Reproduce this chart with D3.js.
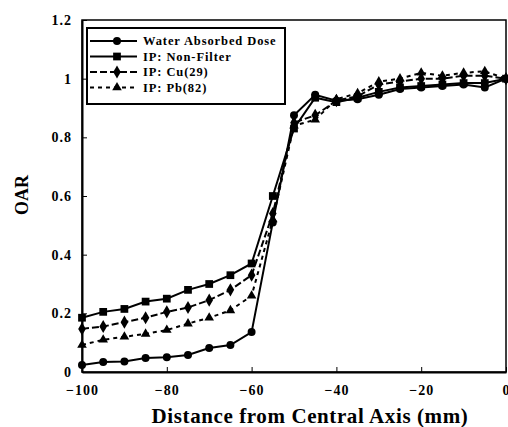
<!DOCTYPE html>
<meta charset="UTF-8">
<style>
    body { margin: 0; background: #fff; }
    text { font-family: "Liberation Serif", "Times New Roman", serif; font-weight: bold; fill: #000; }
    .line { fill: none; stroke: #000; stroke-width: 2px; }
</style>
<body>
<div id="chart"></div>
<script src="https://d3js.org/d3.v7.min.js"></script>
<script>

// data (x every 5 mm from -100 to 0)
var xs = [-100, -95, -90, -85, -80, -75, -70, -65, -60, -55, -50, -45, -40, -35, -30, -25, -20, -15, -10, -5, 0];
var water = [0.024, 0.034, 0.036, 0.048, 0.05, 0.058, 0.082, 0.092, 0.136, 0.51, 0.875, 0.945, 0.925, 0.93, 0.945, 0.965, 0.97, 0.975, 0.98, 0.97, 1.0];
var nonFilter = [0.185, 0.205, 0.215, 0.24, 0.25, 0.28, 0.30, 0.33, 0.37, 0.6, 0.83, 0.935, 0.92, 0.935, 0.955, 0.97, 0.975, 0.98, 0.985, 0.985, 1.0];
var cu = [0.147, 0.155, 0.17, 0.185, 0.205, 0.22, 0.245, 0.28, 0.33, 0.54, 0.85, 0.875, 0.925, 0.94, 0.98, 0.99, 1.0, 1.0, 1.01, 1.01, 1.0];
var pb = [0.092, 0.11, 0.12, 0.13, 0.143, 0.165, 0.185, 0.21, 0.26, 0.52, 0.84, 0.86, 0.93, 0.95, 0.99, 1.0, 1.02, 1.01, 1.02, 1.025, 1.0];
var xTicks = [-100, -80, -60, -40, -20, 0];
var yTicks = [0, 0.2, 0.4, 0.6, 0.8, 1, 1.2];

var series = [
    {name: "Water Absorbed Dose", values: water, symbol: d3.symbolCircle, size: 50, dash: null},
    {name: "IP: Non-Filter", values: nonFilter, symbol: d3.symbolSquare, size: 60, dash: null},
    {name: "IP: Cu(29)", values: cu, symbol: d3.symbolDiamond, size: 50, dash: "7,3"},
    {name: "IP: Pb(82)", values: pb, symbol: d3.symbolTriangle, size: 40, dash: "4,4"}
];

var margin = {top: 20, right: 2, bottom: 55, left: 82},
    width = 508 - margin.left - margin.right,
    height = 427 - margin.top - margin.bottom;

var x = d3.scaleLinear().domain([-100, 0]).range([0, width]);
var y = d3.scaleLinear().domain([0, 1.2]).range([height, 0]);

var svg = d3.select("#chart").append("svg")
    .attr("width", 508)
    .attr("height", 427)
    .append("g")
    .attr("transform", "translate(" + margin.left + "," + margin.top + ")");

// frame
svg.append("rect")
    .attr("x", 0).attr("y", 0)
    .attr("width", width).attr("height", height)
    .attr("fill", "none").attr("stroke", "#000").attr("stroke-width", 1.5);

// x axis, ticks pointing inward
var xAxis = svg.append("g")
    .attr("transform", "translate(0," + height + ")")
    .call(d3.axisBottom(x).tickValues(xTicks).tickSizeInner(-5).tickSizeOuter(0).tickPadding(13).tickFormat(d3.format("d")));
xAxis.select(".domain").attr("stroke-width", 2);
xAxis.selectAll("text").style("font-size", "14px").style("letter-spacing", "1px");

// y axis
var yAxis = svg.append("g")
    .call(d3.axisLeft(y).tickValues(yTicks).tickSizeInner(-5).tickSizeOuter(0).tickPadding(10).tickFormat(function(d) { return d; }));
yAxis.select(".domain").attr("stroke-width", 2);
yAxis.selectAll("text").style("font-size", "14px").style("letter-spacing", "1px");

// axis titles
svg.append("text")
    .attr("x", 228)
    .attr("y", height + 51)
    .attr("text-anchor", "middle")
    .style("font-size", "21px")
    .style("letter-spacing", "0.6px")
    .text("Distance from Central Axis (mm)");

svg.append("text")
    .attr("transform", "rotate(-90)")
    .attr("x", -175)
    .attr("y", -54)
    .attr("text-anchor", "middle")
    .style("font-size", "18px")
    .text("OAR");

// lines and markers
var line = d3.line()
    .x(function(d, i) { return x(xs[i]); })
    .y(function(d) { return y(d); });

series.forEach(function(s) {
    svg.append("path")
        .datum(s.values)
        .attr("class", "line")
        .attr("stroke-dasharray", s.dash)
        .attr("d", line);

    svg.selectAll(null)
        .data(s.values)
        .enter().append("path")
        .attr("transform", function(d, i) { return "translate(" + x(xs[i]) + "," + y(d) + ")"; })
        .attr("d", d3.symbol().type(s.symbol).size(s.size))
        .attr("fill", "#000");
});

// legend
var legend = svg.append("g").attr("transform", "translate(5,8)");
legend.append("rect")
    .attr("width", 198).attr("height", 76)
    .attr("fill", "#fff").attr("stroke", "#000").attr("stroke-width", 2);

series.forEach(function(s, i) {
    var ly = 13 + i * 15.5;
    legend.append("line")
        .attr("x1", 3).attr("x2", 50)
        .attr("y1", ly).attr("y2", ly)
        .attr("stroke", "#000").attr("stroke-width", 2)
        .attr("stroke-dasharray", s.dash);
    legend.append("path")
        .attr("transform", "translate(30," + ly + ")")
        .attr("d", d3.symbol().type(s.symbol).size(s.size))
        .attr("fill", "#000");
    legend.append("text")
        .attr("x", 56).attr("y", ly + 4)
        .style("font-size", "12.5px")
        .style("letter-spacing", "0.9px")
        .text(s.name);
});

</script>
</body>
